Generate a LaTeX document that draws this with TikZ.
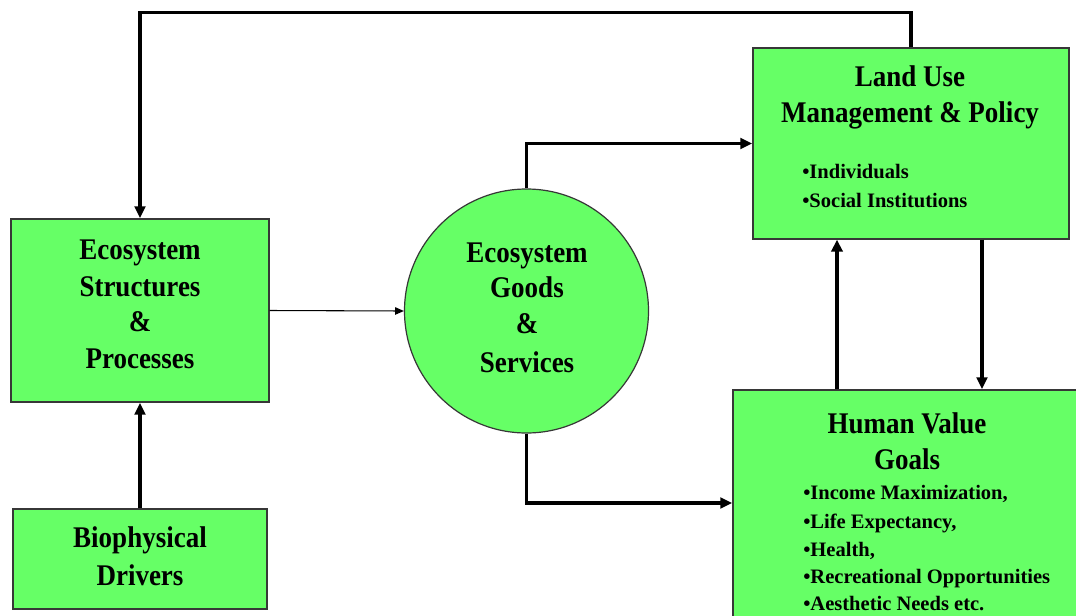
\documentclass[tikz,border=0pt]{standalone}
\usepackage{fontspec}
\setmainfont{Liberation Serif}
\newfontfamily\titlefont[FakeStretch=0.9]{Liberation Serif}
\newfontfamily\itemfont{Liberation Serif}
\usetikzlibrary{arrows.meta,shapes.geometric}
\definecolor{boxgreen}{RGB}{102,255,102}
\definecolor{edgegray}{RGB}{55,55,55}
\tikzset{
  box/.style={draw=edgegray, line width=1.1pt, fill=boxgreen, rectangle, inner sep=0pt},
  roundbox/.style={draw=edgegray, line width=0.9pt, fill=boxgreen, circle, inner sep=0pt},
  ttl/.style={font=\titlefont\bfseries\fontsize{22.5}{27}\selectfont, inner sep=0pt, anchor=base},
  itm/.style={font=\itemfont\bfseries\fontsize{15.4}{18}\selectfont, inner sep=0pt, anchor=base west},
  big/.style={line width=2.4pt, -{Triangle[length=9pt,width=8pt]}},
  bigger/.style={line width=3.4pt, -{Triangle[length=9pt,width=8.5pt]}},
  thin/.style={line width=0.8pt, -{Triangle[length=6.5pt,width=5.5pt]}},
}
\begin{document}
\begin{tikzpicture}[x=0.75pt,y=-0.75pt]
\useasboundingbox (0,0) rectangle (1076,615);
\clip (0,0) rectangle (1076,615);
\fill[white] (0,0) rectangle (1076,615);

% boxes
\node[box, minimum width=193.5pt, minimum height=137.25pt] (eco) at (140,310.5) {};
\node[box, minimum width=190.5pt, minimum height=75pt] (bio) at (140,559) {};
\node[roundbox, minimum size=183pt] (goods) at (526.5,311) {};
\node[box, minimum width=237pt, minimum height=143.25pt] (land) at (911,143.5) {};
\node[box, minimum width=275.25pt, minimum height=195pt] (human) at (916.5,520) {};
\coordinate (hin) at ([yshift=12.75pt]human.west);

% texts
\node[ttl] (t1) at (140,259) {Ecosystem};
\node[ttl] (t2) at (140,296) {Structures};
\node[ttl] (t3) at (140,331) {\&};
\node[ttl] (t4) at (140,368) {Processes};

\node[ttl] (b1) at (140,547) {Biophysical};
\node[ttl] (b2) at (140,585) {Drivers};

\node[ttl] (g1) at (527,262) {Ecosystem};
\node[ttl] (g2) at (527,297) {Goods};
\node[ttl] (g3) at (527,333) {\&};
\node[ttl] (g4) at (527,372) {Services};

\node[ttl] (l1) at (910,86) {Land Use};
\node[ttl] (l2) at (910,122) {Management \& Policy};
\node[itm] (l3) at (802,178) {•Individuals};
\node[itm] (l4) at (802,207) {•Social Institutions};

\node[ttl] (h1) at (907,433) {Human Value};
\node[ttl] (h2) at (907,469) {Goals};
\node[itm] (h3) at (803,499) {•Income Maximization,};
\node[itm] (h4) at (803,528) {•Life Expectancy,};
\node[itm] (h5) at (803,556) {•Health,};
\node[itm] (h6) at (803,583) {•Recreational Opportunities};
\node[itm] (h7) at (803,610) {•Aesthetic Needs etc.};

% connectors
\draw[big] (land.north) -- ++(0,-35) -| (eco.north);
\draw[big] (goods.north) |- (land.west);
\draw[big] (goods.south) |- (hin);
\draw[thin] (eco.east) -- (goods.west);
\draw[big] (bio.north) -- (eco.south);
\draw[bigger] (human.north -| 837,0) -- (land.south -| 837,0);
\draw[big] (land.south -| 982,0) -- (human.north -| 982,0);
\end{tikzpicture}
\end{document}
